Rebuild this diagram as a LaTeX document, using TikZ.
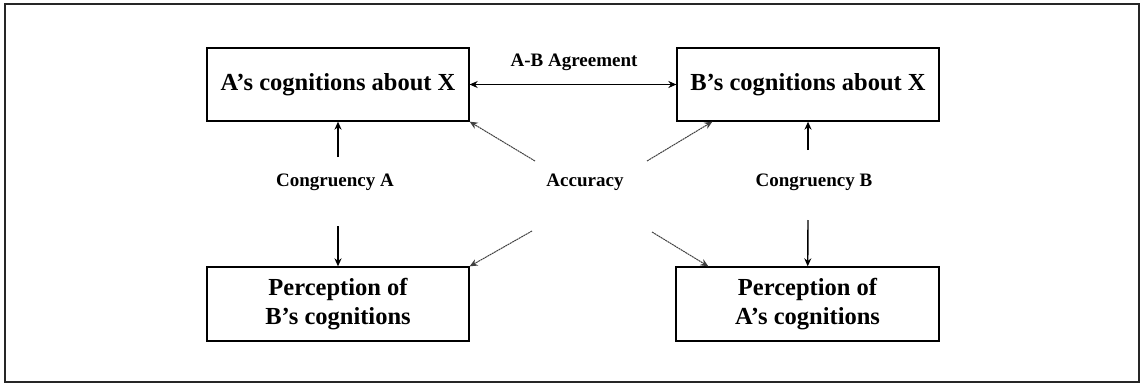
\documentclass[tikz,border=0pt]{standalone}
\usepackage{fontspec}
\setmainfont{Liberation Serif}
\usetikzlibrary{arrows.meta,calc}

\begin{document}
\begin{tikzpicture}[x=1pt,y=-1pt,>={Stealth[length=8pt,width=7pt]},
  box node/.style={draw,line width=1.3pt,minimum width=262pt,minimum height=73pt,inner sep=0pt,align=center,
    font=\fontsize{24.5}{29}\selectfont\bfseries},
  tag node/.style={font=\fontsize{19}{20}\selectfont\bfseries,inner sep=0pt},
  main arrow/.style={->,line width=1.4pt},
  acc arrow/.style={->,line width=1pt,black!75,dash pattern=on 2pt off 0.6pt}]

\useasboundingbox (0,0) rectangle (1141,383);
\draw[line width=1.4pt,black!85] (5,4) rectangle (1139,382);

\node[box node](A) at (338,84.5) {A’s cognitions about X};
\node[box node](B) at (808,84.5) {B’s cognitions about X};
\node[box node,minimum height=74pt](PB) at (338,304) {Perception of\\B’s cognitions};
\node[box node,minimum height=74pt,minimum width=263pt](PA) at (807.5,304) {Perception of\\A’s cognitions};

\node[tag node](agr) at (574,62) {A-B Agreement};
\node[tag node](congA) at (335,182) {Congruency A};
\node[tag node](acc) at (585,182) {Accuracy};
\node[tag node](congB) at (814,182) {Congruency B};

\coordinate (cA1) at (338,157);
\coordinate (cA2) at (338,226);
\coordinate (cB1) at (808,150);
\coordinate (cB2) at (808,220);
\coordinate (ac1) at (535,161);
\coordinate (ac2) at (647,161);
\coordinate (ac3) at (532,231);
\coordinate (ac4) at (652,232);
\coordinate (hitB) at ($(B.south west)+(36,0)$);
\coordinate (hitPA) at ($(PA.north west)+(33,0)$);

\path
(A) edge[main arrow,<->] (B)
(cA1) edge[main arrow] (A)
(cA2) edge[main arrow] (PB)
(cB1) edge[main arrow] (B)
(cB2) edge[main arrow] (PA)
(ac1) edge[acc arrow] (A.south east)
(ac2) edge[acc arrow] (hitB)
(ac3) edge[acc arrow] (PB.north east)
(ac4) edge[acc arrow] (hitPA);
\end{tikzpicture}
\end{document}
